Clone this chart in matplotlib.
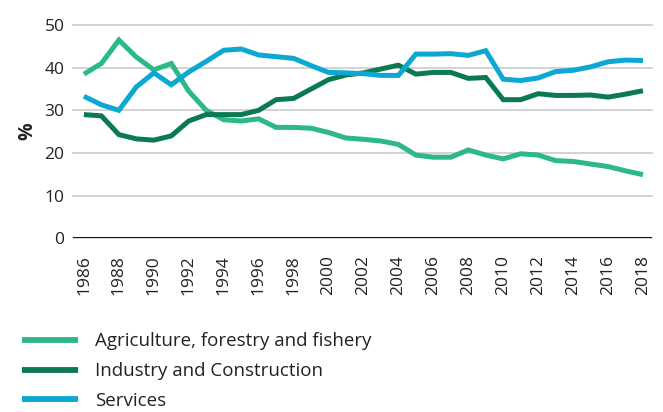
import matplotlib.pyplot as plt

years = list(range(1986, 2019))

agriculture = [38.5, 41.0, 46.5, 42.5, 39.5, 41.0, 34.5, 30.0, 27.8, 27.5,
               28.0, 26.0, 26.0, 25.8, 24.8, 23.5, 23.2, 22.8, 22.0, 19.5,
               19.0, 19.0, 20.7, 19.5, 18.6, 19.8, 19.5, 18.2, 18.0, 17.4,
               16.8, 15.8, 14.9]
industry = [29.0, 28.7, 24.3, 23.3, 23.0, 24.0, 27.5, 29.0, 29.0, 29.0,
            30.0, 32.5, 32.8, 35.0, 37.2, 38.3, 38.8, 39.7, 40.6, 38.5,
            38.9, 38.9, 37.5, 37.7, 32.5, 32.5, 33.9, 33.5, 33.5, 33.6,
            33.1, 33.8, 34.6]
services = [33.3, 31.3, 30.0, 35.5, 38.8, 36.0, 39.0, 41.5, 44.1, 44.4,
            43.0, 42.6, 42.2, 40.5, 38.9, 38.8, 38.6, 38.2, 38.2, 43.2,
            43.2, 43.3, 42.9, 44.0, 37.3, 37.0, 37.6, 39.1, 39.4, 40.2,
            41.4, 41.8, 41.7]

series_labels = ["Agriculture, forestry and fishery",
                 "Industry and Construction",
                 "Services"]
colors = ["#2cb887", "#0c7a50", "#0aa8d2"]
y_ticks = [0, 10, 20, 30, 40, 50]
x_ticks = list(range(1986, 2019, 2))

plt.rcParams['font.family'] = ['Open Sans', 'DejaVu Sans']
text_color = "#222222"

fig = plt.figure(figsize=(6.63, 4.12), dpi=100)
ax = fig.add_axes([0.110, 0.422, 0.873, 0.517])

handles = []
for values, label, color in zip([agriculture, industry, services], series_labels, colors):
    h, = ax.plot(years, values, color=color, linewidth=3.6, label=label,
                 solid_capstyle='butt', solid_joinstyle='miter', zorder=3)
    handles.append(h)

ax.set_xlim(1985.37, 2018.5)
ax.set_ylim(0, 50)
ax.set_yticks(y_ticks)
ax.set_xticks(x_ticks)
ax.set_xticklabels([str(y) for y in x_ticks], rotation=90)
ax.tick_params(axis='both', length=0, labelsize=12.5, colors=text_color, pad=6)
ax.tick_params(axis='x', pad=12)

for s in ax.spines.values():
    s.set_visible(False)
ax.grid(axis='y', color='#cccccc', linewidth=1.2, zorder=0)
ax.axhline(0, color='#1a1a1a', linewidth=1.5, zorder=2)
for line in ax.get_ygridlines():
    line.set_clip_on(False)

ax.set_ylabel("%", fontsize=14, fontweight='bold', color=text_color, labelpad=5)

leg = fig.legend(handles=handles, labels=series_labels, loc='upper left',
                 bbox_to_anchor=(0.025, 0.207), frameon=False, fontsize=13.5,
                 handlelength=3.0, handletextpad=0.9, labelspacing=0.63,
                 labelcolor=text_color, borderaxespad=0, borderpad=0.3)
for h in leg.get_lines():
    h.set_linewidth(4.2)

fig.savefig("out.png", dpi=100)
